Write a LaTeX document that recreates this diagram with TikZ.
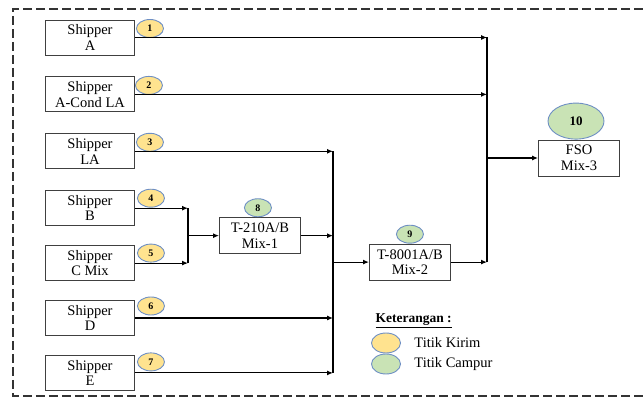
\documentclass[tikz,border=0pt]{standalone}
\usepackage{fontspec}
\setmainfont{Liberation Serif}
\usetikzlibrary{
	shapes.geometric,
	arrows.meta,
	positioning,
	calc
}
\definecolor{kirimfill}{HTML}{FFE38F}
\definecolor{campurfill}{HTML}{C9E3B5}
\definecolor{ringblue}{HTML}{6E8FC4}

\begin{document}
\begin{tikzpicture}[
			x=1pt, y=-1pt,
			shipper/.style={
				rectangle, draw=black!75, line width=0.9pt,
				minimum width=89pt, minimum height=35pt,
				align=center, inner sep=1pt, font=\fontsize{14.5}{15.5}\selectfont
			},
			tank/.style={
				shipper, minimum width=81pt, minimum height=36pt
			},
			kirim/.style={
				ellipse, draw=ringblue, line width=0.9pt, fill=kirimfill,
				minimum width=27pt, minimum height=18pt, inner sep=0pt,
				font=\fontsize{10}{10}\selectfont\bfseries
			},
			campur/.style={kirim, fill=campurfill},
			arrow/.style={-{Latex[length=6pt,width=5pt]}, line width=1.1pt},
			bus/.style={line width=1.3pt}
			]
			
			\useasboundingbox (0,0) rectangle (643,398);
			
			% ---------------- frame ----------------
			\draw[line width=1.4pt, black!80, dash pattern=on 9pt off 4pt]
				(643,9) -| (13,396) -- (643,396);
			
			% ---------------- shippers ----------------
			\node[shipper] (shA) at (90,37.5) {Shipper\\A};
			\node[shipper, below=21pt of shA] (shAC) {Shipper\\A-Cond LA};
			\node[shipper, below=21pt of shAC] (shLA) {Shipper\\LA};
			\node[shipper, below=21pt of shLA] (shB) {Shipper\\B};
			\node[shipper, below=19pt of shB] (shC) {Shipper\\C Mix};
			\node[shipper, below=19pt of shC] (shD) {Shipper\\D};
			\node[shipper, below=19pt of shD] (shE) {Shipper\\E};
			
			% titik kirim 1..7
			\node[kirim] (k1) at ($(shA.east)+(15,-9)$) {1};
			\node[kirim] (k2) at ($(shAC.east)+(14,-9)$) {2};
			\node[kirim] (k3) at ($(shLA.east)+(15,-9)$) {3};
			\node[kirim] (k4) at ($(shB.east)+(16,-10)$) {4};
			\node[kirim] (k5) at ($(shC.east)+(16,-10)$) {5};
			\node[kirim] (k6) at ($(shD.east)+(16,-12)$) {6};
			\node[kirim] (k7) at ($(shE.east)+(16,-11)$) {7};
			
			% ---------------- mixing tanks ----------------
			\node[tank] (mix1) at ($(shB.east)!0.5!(shC.east)+(125,0)$) {T-210A/B\\Mix-1};
			\node[tank] (mix2) at ($(shLA.east)!0.5!(shE.east)+(275,0)$) {T-8001A/B\\Mix-2};
			\node[tank] (fso) at (579,158) {FSO\\Mix-3};
			
			% titik campur 8..10
			\node[campur, above=0pt of mix1, xshift=-2pt] (c8) {8};
			\node[campur, above=0pt of mix2] (c9) {9};
			\node[campur, above=0pt of fso, xshift=-3pt,
				minimum width=56pt, minimum height=36pt,
				font=\fontsize{13}{13}\selectfont\bfseries] (c10) {10};
			
			% ---------------- connectors ----------------
			\coordinate (busBC) at (188,0);
			\coordinate (busMix2) at (333,0);
			\coordinate (busFSO) at (487,0);
			
			% B + C Mix -> Mix-1
			\draw[arrow] (shB.east) -- (shB.east -| busBC);
			\draw[arrow] (shC.east) -- (shC.east -| busBC);
			\draw[bus] (shB.east -| busBC) -- (shC.east -| busBC);
			\draw[arrow] (mix1.west -| busBC) -- (mix1.west);
			
			% LA, Mix-1, D, E -> Mix-2
			\draw[arrow] (shLA.east) -- (shLA.east -| busMix2);
			\draw[arrow] (mix1.east) -- (mix1.east -| busMix2);
			\draw[arrow] (shD.east) -- (shD.east -| busMix2);
			\draw[arrow] (shE.east) -- (shE.east -| busMix2);
			\draw[bus] (shLA.east -| busMix2) -- (shE.east -| busMix2);
			\draw[arrow] (mix2.west -| busMix2) -- (mix2.west);
			
			% A, A-Cond LA, Mix-2 -> FSO
			\draw[arrow] (shA.east) -- (shA.east -| busFSO);
			\draw[arrow] (shAC.east) -- (shAC.east -| busFSO);
			\draw[arrow] (mix2.east) -- (mix2.east -| busFSO);
			\draw[bus] (shA.east -| busFSO) -- (mix2.east -| busFSO);
			\draw[arrow] (fso.west -| busFSO) -- (fso.west);
			
			% ---------------- legend ----------------
			\node[anchor=west, font=\fontsize{13.5}{13.5}\selectfont\bfseries] (ket) at (372,321) {\underline{Keterangan :}};
			\node[kirim, minimum width=29pt, minimum height=20pt] (lgK) at (386,343) {};
			\node[campur, minimum width=29pt, minimum height=20pt] (lgC) at (386,364) {};
			\node[right=10pt of lgK, font=\fontsize{14.5}{14.5}\selectfont] (lgKt) {Titik Kirim};
			\node[right=10pt of lgC, font=\fontsize{14.5}{14.5}\selectfont] (lgCt) {Titik Campur};
		\end{tikzpicture}
\end{document}
